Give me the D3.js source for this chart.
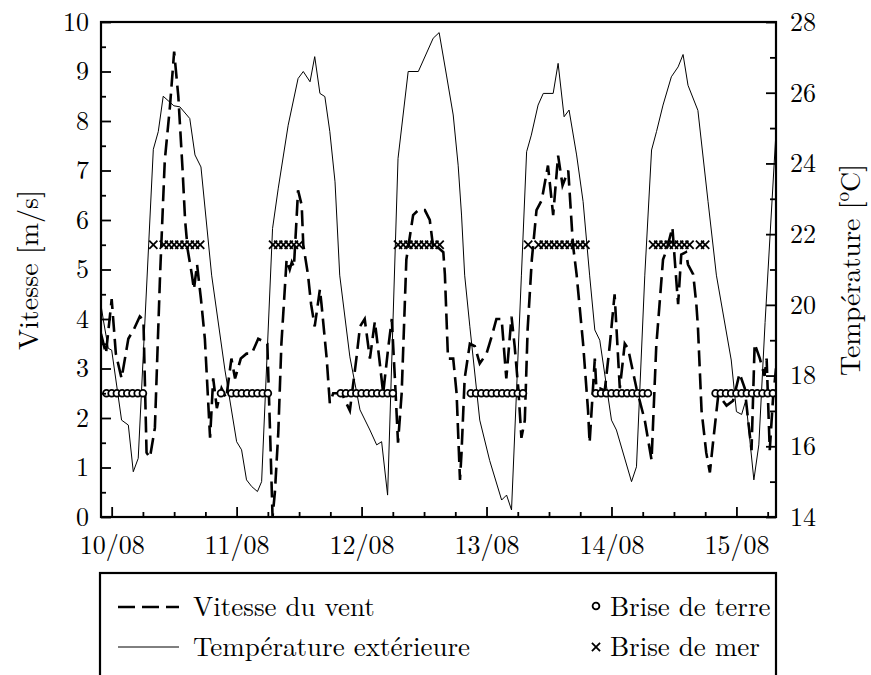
<!DOCTYPE html>
<html><head><meta charset="utf-8">
<script src="https://cdn.jsdelivr.net/npm/d3@7"></script>
<style>body{margin:0;background:#fff}svg{display:block}</style>
</head><body><svg id="c" width="871" height="675"></svg>
<script>
// hours since 10/08 00:00
const dayLabels = ["10/08","11/08","12/08","13/08","14/08","15/08"];
const dayHours = [0,24,48,72,96,120];
const windTicks = [0,1,2,3,4,5,6,7,8,9,10];
const tempTicks = [14,16,18,20,22,24,26,28];

const tempHours = [-2.05,-1.6,-0.65,0,1.9,3.2,4.15,5.1,8,8.95,9.9,11.95,13.1,15,16,17.15,19.2,21.75,24,24.95,25.9,26.9,28,28.8,30.9,32,33.9,35.8,36.8,38.1,39,40,40.95,41.9,42.9,43.8,45.75,47.7,49.6,50.9,51.85,53,55,56.95,58.9,61.75,62.9,64.3,65.6,66.55,67.2,67.8,68.8,70.7,72.6,74.9,75.85,76.8,78.7,79.7,80.6,81.9,82.9,84.8,85.75,86.9,87.85,89.3,90.55,91.8,92.8,93.75,96,96.95,99.85,100.8,102.4,103.7,104.65,105.9,107.5,108.8,109.75,110.7,112.6,114.55,116.15,119,120,121,121.8,123.35,124.3,125.5,127.6];
const tempValues = [20.0,19.57,18.77,18.72,16.74,16.6,15.28,15.66,24.4,24.9,25.9,25.63,25.6,25.27,24.24,23.9,20.84,18.16,16.13,15.9,15.05,14.86,14.72,15.0,22.16,23.3,25.08,26.4,26.6,26.31,27.02,25.98,25.89,24.9,23.48,20.84,18.53,17.03,16.46,16.04,16.13,14.62,24.14,26.6,26.6,27.54,27.7,26.5,25.37,23.95,22.54,20.84,19.38,16.74,15.6,14.48,14.62,14.2,20.84,24.33,24.8,25.65,25.98,25.98,26.83,25.32,25.51,24.24,22.92,20.84,19.29,19.0,16.74,16.46,15.0,15.42,20.84,24.38,24.9,25.65,26.45,26.73,27.08,26.21,25.5,22.92,20.84,18.44,16.98,16.9,17.3,15.05,16.04,19.5,24.9];

const windHours = [-2.05,-1.1,0,0.8,1.9,3.2,4.3,5.4,6.1,6.7,7.35,8.3,9.3,10.2,11.2,12,12.8,13.6,14.1,14.6,15.4,15.8,16.4,17.15,17.9,18.9,19.5,20.2,21.1,22,23,23.7,24.8,25.9,26.9,28.15,29.1,29.9,30.4,30.9,31.35,32,32.6,33.6,34.2,34.6,35,35.5,35.8,36.5,36.8,37.7,38.3,39,40,40.3,41.3,41.9,42.55,43.5,44.4,45.75,47,47.7,48.6,49.6,50.55,51.4,52.15,53.1,53.8,54.4,55,55.7,56.6,57.9,58.9,60.15,61.1,61.75,62.1,63.7,64,64.6,65.6,66.25,66.9,67.2,67.8,68.8,69.75,70.7,72,73,73.9,74.9,75.8,76.8,77.4,78.1,78.7,79.35,79.9,80.7,81.6,82.6,83.8,84.8,85.75,86.6,87.7,88.6,89.3,90.55,91.5,91.8,92.8,93.1,93.75,94.7,95.7,96.6,97.6,98.55,99.2,100.8,102.4,103.7,104.6,105.9,106.6,107.7,108.15,108.8,109.4,110.3,110.7,111.7,112.3,112.6,113.3,114.2,114.9,115.5,116.5,117.4,118.1,119.35,120.6,121.6,122.2,122.9,123.5,124.5,125.4,125.8,126.4,127,127.6];
const windValues = [3.7,3.3,4.4,3.3,2.8,3.6,3.8,4.05,3.98,1.3,1.2,1.8,4.9,7.2,8.3,9.4,8.5,7.05,6.0,5.4,4.9,4.6,5.1,4.4,3.6,1.6,2.8,2.2,2.6,2.4,3.2,2.8,3.2,3.3,3.3,3.6,3.55,3.5,1.8,0.0,0.5,1.7,3.5,5.2,5.0,5.15,5.05,6.0,6.6,6.3,5.5,4.9,4.3,3.85,4.6,4.3,3.2,2.3,2.5,2.5,2.45,2.15,3.2,3.85,4.0,3.2,3.95,3.2,2.5,3.4,4.0,2.8,1.5,2.5,5.2,6.1,6.2,6.2,6.0,5.45,5.5,5.35,4.9,3.2,3.2,2.5,0.75,1.3,2.8,3.5,3.45,3.1,3.3,3.65,4.0,4.0,2.8,4.05,3.45,2.6,1.6,1.95,3.8,5.2,6.2,6.4,7.1,6.1,7.3,6.7,7.0,5.5,4.9,3.5,2.15,1.5,3.2,2.6,2.6,2.55,3.5,4.5,2.6,3.5,3.4,2.6,1.95,1.15,3.45,5.2,5.4,5.85,5.2,4.3,5.3,5.35,5.1,4.9,4.3,3.85,2.15,1.3,0.9,1.5,2.45,2.35,2.25,2.35,2.9,2.6,2.0,1.35,3.5,3.2,2.85,3.2,1.35,2.35,3.0];

const landBreezeHours = [-1,0,1,2,3,4,5,6,21,23,24,25,26,27,28,29,30,44,45,46,47,48,49,50,51,52,53,54,69,70,71,72,73,74,75,76,77,78,79,93,94,95,96,97,98,99,100,101,102,103,116,117,118,119,120,121,122,123,124,125,126,127];
const landBreezeLevel = 2.5;
const seaBreezeHours = [8,10,11,12,13,14,15,16,17,31,32,33,34,35,36,55,56,57,58,59,60,61,62,63,80,82,83,84,85,86,87,88,89,90,91,104,105,106,107,108,109,110,111,113,114];
const seaBreezeLevel = 5.5;

const legendLabels = ["Vitesse du vent","Température extérieure","Brise de terre","Brise de mer"];

const FONT = '"Latin Modern Roman","Liberation Serif",serif';
const svg = d3.select("#c");
const L=101,R=776,T=22,B=517;
const x = d3.scaleLinear().domain([-2.05,127.6]).range([L,R]);
const yL = d3.scaleLinear().domain([0,10]).range([B,T]);
const yR = d3.scaleLinear().domain([14,28]).range([B,T]);

svg.append("clipPath").attr("id","clp").append("rect").attr("x",L).attr("y",T).attr("width",R-L).attr("height",B-T);

const g = svg.append("g").attr("clip-path","url(#clp)");
g.append("path").datum(tempHours.map((h,i)=>[h,tempValues[i]]))
 .attr("fill","none").attr("stroke","#000").attr("stroke-width",1)
 .attr("d",d3.line().x(d=>x(d[0])).y(d=>yR(d[1])));
g.append("path").datum(windHours.map((h,i)=>[h,windValues[i]]))
 .attr("fill","none").attr("stroke","#000").attr("stroke-width",2.6).attr("stroke-dasharray","16,7")
 .attr("d",d3.line().x(d=>x(d[0])).y(d=>yL(d[1])));
g.selectAll("circle.lb").data(landBreezeHours).join("circle").attr("class","lb")
 .attr("cx",d=>x(d)).attr("cy",yL(landBreezeLevel)).attr("r",3.4)
 .attr("fill","#fff").attr("stroke","#000").attr("stroke-width",1.8);
const cross = d3.symbol().type(d3.symbolTimes).size(45);
g.selectAll("path.sb").data(seaBreezeHours).join("path").attr("class","sb")
 .attr("transform",d=>`translate(${x(d)},${yL(seaBreezeLevel)})`).attr("d",cross)
 .attr("fill","none").attr("stroke","#000").attr("stroke-width",1.8);

// axes
function style(sel){sel.select(".domain").remove();sel.selectAll(".tick line").attr("stroke","#000").attr("stroke-width",1.8);
  sel.selectAll("text").style("font-family",FONT).attr("fill","#000");}
const minorHours = d3.range(0, 127, 6).filter(h=>!dayHours.includes(h));
svg.append("g").attr("transform",`translate(0,${B})`)
 .call(d3.axisBottom(x).tickValues(dayHours).tickSize(-10).tickPadding(19).tickFormat((d,i)=>dayLabels[i]))
 .call(style).call(s=>s.selectAll("text").style("font-size","26px"));
svg.append("g").attr("transform",`translate(0,${B})`)
 .call(d3.axisBottom(x).tickValues(minorHours).tickSize(-5).tickFormat(""))
 .call(style);
svg.append("g").attr("transform",`translate(${L},0)`)
 .call(d3.axisLeft(yL).tickValues(windTicks).tickSize(-10).tickPadding(12).tickFormat(d3.format("d")))
 .call(style).call(s=>s.selectAll("text").style("font-size","26px"));
svg.append("g").attr("transform",`translate(${L},0)`)
 .call(d3.axisLeft(yL).tickValues(d3.range(0.5,10,1)).tickSize(-5).tickFormat(""))
 .call(style);
svg.append("g").attr("transform",`translate(${R},0)`)
 .call(d3.axisRight(yR).tickValues(tempTicks).tickSize(-10).tickPadding(14).tickFormat(d3.format("d")))
 .call(style).call(s=>s.selectAll("text").style("font-size","26px"));
svg.append("g").attr("transform",`translate(${R},0)`)
 .call(d3.axisRight(yR).tickValues(d3.range(15,28,2)).tickSize(-6).tickFormat(""))
 .call(style);

svg.append("rect").attr("x",L).attr("y",T).attr("width",R-L).attr("height",B-T)
 .attr("fill","none").attr("stroke","#000").attr("stroke-width",2.2);

// axis titles
svg.append("text").attr("transform","translate(38,270) rotate(-90)").attr("text-anchor","middle")
 .style("font-family",FONT).style("font-size","28px").text("Vitesse [m/s]");
const rt = svg.append("text").attr("transform","translate(860,270) rotate(-90)").attr("text-anchor","middle")
 .style("font-family",FONT).style("font-size","28px");
rt.append("tspan").text("Température [");
rt.append("tspan").style("font-size","19px").attr("dy",-11).text("o");
rt.append("tspan").attr("dy",11).text("C]");

// legend
const lg = svg.append("g");
lg.append("rect").attr("x",100).attr("y",573).attr("width",676).attr("height",130)
 .attr("fill","#fff").attr("stroke","#000").attr("stroke-width",2.2);
lg.append("line").attr("x1",118).attr("x2",179).attr("y1",607).attr("y2",607)
 .attr("stroke","#000").attr("stroke-width",2.6).attr("stroke-dasharray","17,7");
lg.append("line").attr("x1",118).attr("x2",179).attr("y1",647).attr("y2",647)
 .attr("stroke","#000").attr("stroke-width",1);
const lt = (xx,yy,t)=>lg.append("text").attr("x",xx).attr("y",yy).style("font-family",FONT).style("font-size","27px").text(t);
lt(193,616,legendLabels[0]);
lt(193,656,legendLabels[1]);
lg.append("circle").attr("cx",596).attr("cy",606).attr("r",3.4).attr("fill","#fff").attr("stroke","#000").attr("stroke-width",1.8);
lg.append("path").attr("transform","translate(596,647)").attr("d",cross).attr("fill","none").attr("stroke","#000").attr("stroke-width",1.8);
lt(610,616,legendLabels[2]);
lt(610,656,legendLabels[3]);
</script></body></html>
